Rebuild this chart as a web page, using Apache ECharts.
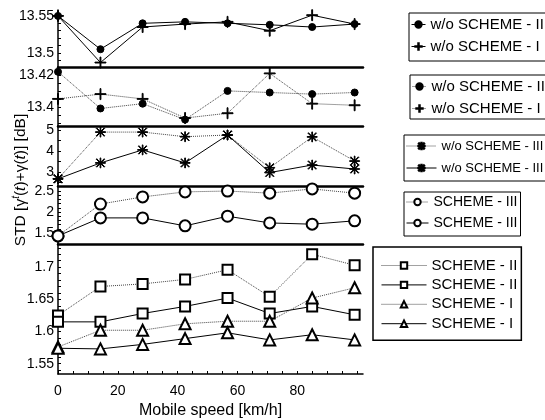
<!DOCTYPE html>
<html>
<head>
<meta charset="utf-8">
<script src="https://cdn.jsdelivr.net/npm/echarts@6/dist/echarts.min.js"></script>
<style>
html,body{margin:0;padding:0;background:#fff;}
#c{width:545px;height:420px;}
</style>
</head>
<body>
<div id="c"></div>
<script>
// Mobile speed (km/h) of the 8 measured points
const speed = [0, 14.2, 28.3, 42.5, 56.7, 70.8, 85, 99.2];

// Panel 1 (solid lines)
const p1_woII = [13.55, 13.505, 13.540, 13.542, 13.540, 13.538, 13.535, 13.539];
const p1_woI  = [13.55, 13.487, 13.535, 13.539, 13.542, 13.530, 13.551, 13.539];
// Panel 2 (dotted lines)
const p2_woII = [13.422, 13.399, 13.402, 13.392, 13.410, 13.409, 13.408, 13.409];
const p2_woI  = [13.405, 13.408, 13.405, 13.393, 13.396, 13.421, 13.402, 13.401];
// Panel 3
const p3_woIII_dot = [2.67, 4.9, 4.9, 4.68, 4.76, 3.2, 4.67, 3.52];
const p3_woIII_sol = [2.67, 3.43, 4.05, 3.43, 4.76, 2.97, 3.33, 3.14];
// Panel 4
const p4_III_dot = [1.43, 2.19, 2.36, 2.48, 2.5, 2.45, 2.55, 2.45];
const p4_III_sol = [1.43, 1.86, 1.86, 1.67, 1.9, 1.74, 1.71, 1.79];
// Panel 5
const p5_II_dot = [1.625, 1.670, 1.674, 1.681, 1.696, 1.654, 1.720, 1.703];
const p5_II_sol = [1.615, 1.615, 1.628, 1.639, 1.652, 1.628, 1.639, 1.626];
const p5_I_dot  = [1.576, 1.602, 1.602, 1.612, 1.616, 1.616, 1.652, 1.668];
const p5_I_sol  = [1.574, 1.573, 1.580, 1.589, 1.598, 1.587, 1.595, 1.587];

// Tick labels
const xLabels = [0, 20, 40, 60, 80];
const y1Labels = [13.5, 13.55];
const y2Labels = [13.4, 13.42];
const y3Labels = [3, 4, 5];
const y4Labels = [1.5, 2, 2.5];
const y5Labels = [1.55, 1.6, 1.65, 1.7];

const FONT = 'Liberation Sans, Arial, sans-serif';
const ZW = '\u200b';

const PLUS = 'path://M9.2,0H10.8V9.2H20V10.8H10.8V20H9.2V10.8H0V9.2H9.2Z';
const AST = 'path://M9.3,0H10.7V9.3H20V10.7H10.7V20H9.3V10.7H0V9.3H9.3Z M2.5,1.5L18.5,17.5L17.5,18.5L1.5,2.5Z M17.5,1.5L18.5,2.5L2.5,18.5L1.5,17.5Z';

function range(a, b, s) { const r = []; for (let v = a; v <= b + 1e-9; v += s) r.push(+v.toFixed(4)); return r; }

const grids = [
  {top: 10, height: 57},
  {top: 67, height: 59},
  {top: 126, height: 60},
  {top: 186, height: 58},
  {top: 244, height: 140}
].map(g => Object.assign({left: 58, right: 182}, g));

const yCfg = [
  {min: 13.481, max: 13.558, labels: y1Labels, ticks: range(13.49, 13.55, 0.01)},
  {min: 13.388, max: 13.425, labels: y2Labels, ticks: range(13.39, 13.42, 0.005)},
  {min: 2.33, max: 5.19, labels: y3Labels, ticks: range(2.5, 5, 0.5)},
  {min: 1.238, max: 2.62, labels: y4Labels, ticks: range(1.3, 2.5, 0.1)},
  {min: 1.534, max: 1.736, labels: y5Labels, ticks: range(1.54, 1.73, 0.01)}
];

const xAxes = grids.map((g, i) => ({
  type: 'value', gridIndex: i, min: 0, max: 102,
  axisLine: {show: true, lineStyle: {color: '#000', width: i < 4 ? 2.5 : 1.5}},
  axisTick: {show: i === 4, inside: true, length: 3, customValues: range(0, 100, 5), lineStyle: {color: '#000'}},
  axisLabel: {show: i === 4, customValues: xLabels, color: '#000', fontSize: 14, fontFamily: FONT, margin: 10},
  splitLine: {show: false},
  name: i === 4 ? 'Mobile speed [km/h]' : '',
  nameLocation: 'middle', nameGap: 29,
  nameTextStyle: {color: '#000', fontSize: 16, fontFamily: FONT}
}));

const yAxes = yCfg.map((c, i) => ({
  type: 'value', gridIndex: i, min: c.min, max: c.max,
  axisLine: {show: true, lineStyle: {color: '#000', width: 1.5}},
  axisTick: {show: true, inside: true, length: 3, customValues: c.ticks, lineStyle: {color: '#000'}},
  axisLabel: {customValues: c.labels, color: '#000', fontSize: 14, fontFamily: FONT, margin: 4},
  splitLine: {show: false}
}));

function mk(name, data, gi, symbol, size, dotted) {
  return {
    type: 'line', name: name, xAxisIndex: gi, yAxisIndex: gi,
    data: speed.map((x, k) => [x, data[k]]),
    symbol: symbol, symbolSize: size, showAllSymbol: true,
    clip: true,
    lineStyle: {color: dotted ? '#444' : '#000', width: 1, type: dotted ? 'dotted' : 'solid'},
    itemStyle: {color: '#000', borderColor: '#000', borderWidth: 1},
    emphasis: {disabled: true},
    animation: false
  };
}

const series = [
  mk('w/o SCHEME - II', p1_woII, 0, 'circle', 7, false),
  mk('w/o SCHEME - I', p1_woI, 0, PLUS, 11, false),
  mk('w/o SCHEME - II' + ZW, p2_woII, 1, 'circle', 7, true),
  mk('w/o SCHEME - I' + ZW, p2_woI, 1, PLUS, 11, true),
  mk('w/o SCHEME - III', p3_woIII_dot, 2, AST, 10, true),
  mk('w/o SCHEME - III' + ZW, p3_woIII_sol, 2, AST, 10, false),
  mk('SCHEME - III', p4_III_dot, 3, 'emptyCircle', 11, true),
  mk('SCHEME - III' + ZW, p4_III_sol, 3, 'emptyCircle', 11, false),
  mk('SCHEME - II', p5_II_dot, 4, 'emptyRect', 10, true),
  mk('SCHEME - II' + ZW, p5_II_sol, 4, 'emptyRect', 10, false),
  mk('SCHEME - I', p5_I_dot, 4, 'emptyTriangle', 11, true),
  mk('SCHEME - I' + ZW, p5_I_sol, 4, 'emptyTriangle', 11, false)
];

function lg(names, left, top, itemWidth, fs, gap, pad, bw) {
  return {
    orient: 'vertical', left: left, top: top,
    data: names, itemWidth: itemWidth, itemHeight: 8, itemGap: gap,
    padding: pad,
    borderColor: '#000', borderWidth: bw || 1,
    selectedMode: false,
    lineStyle: {width: 1},
    textStyle: {color: '#000', fontSize: fs, fontFamily: FONT, lineHeight: 14},
    formatter: n => n.replace(/\u200b/g, '')
  };
}

const legends = [
  lg([series[0].name, series[1].name], 409, 13, 14, 15, 7, [4, 3, 7, 2]),
  lg([series[2].name, series[3].name], 410, 75, 14, 15, 7, [4, 3, 3, 2]),
  lg([series[4].name, series[5].name], 404, 135, 30, 13, 8, [4, 3, 6, 2]),
  lg([series[6].name, series[7].name], 404, 192, 22, 14, 7, [3, 3, 6, 2]),
  lg([series[8].name, series[9].name, series[10].name, series[11].name], 373, 247, 45, 15, 4.4, [11, 4, 9, 8], 1.5)
];

const chart = echarts.init(document.getElementById('c'), null, {renderer: 'canvas'});
chart.setOption({
  backgroundColor: '#fff',
  animation: false,
  grid: grids,
  xAxis: xAxes,
  yAxis: yAxes,
  legend: legends,
  series: series,
  graphic: [{
    type: 'text', x: 21, y: 180, rotation: Math.PI / 2,
    style: {
      text: '{n|STD [γ}{s|t}{n|(}{i|t}{n|)+γ(}{i|t}{n|)] [dB]}',
      align: 'center', verticalAlign: 'middle',
      fill: '#000',
      rich: {
        n: {fontSize: 15.5, fontFamily: FONT, fill: '#000', lineHeight: 20},
        i: {fontSize: 15.5, fontFamily: FONT, fontStyle: 'italic', fill: '#000', lineHeight: 20},
        s: {fontSize: 10, fontFamily: FONT, fontStyle: 'italic', fill: '#000', verticalAlign: 'top', lineHeight: 20}
      }
    }
  }]
});
</script>
</body>
</html>
